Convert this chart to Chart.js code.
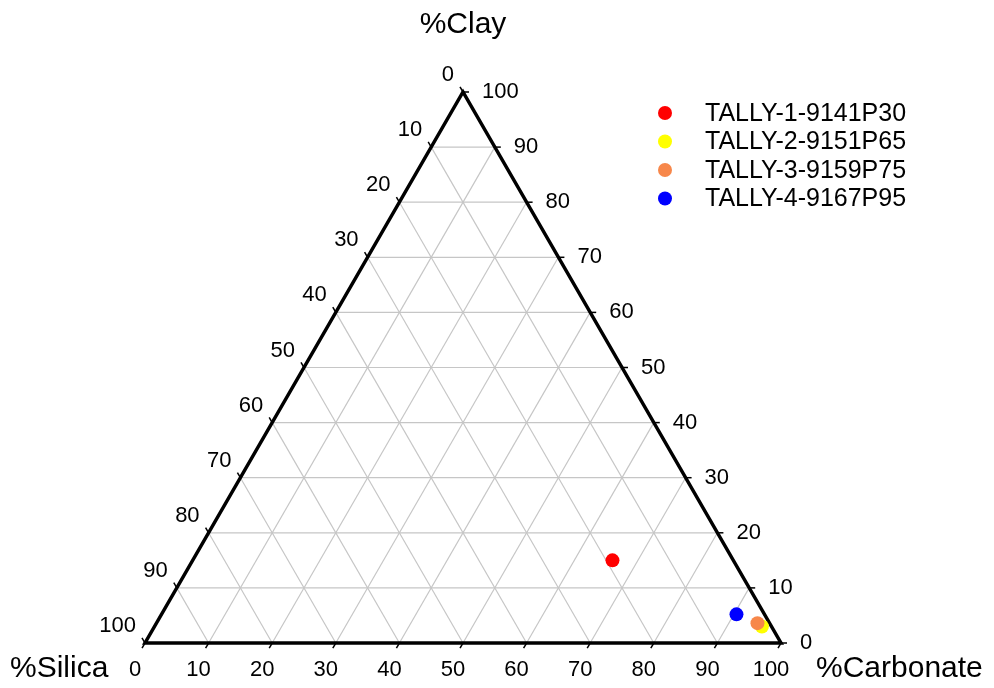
<!DOCTYPE html>
<html>
<head>
<meta charset="utf-8">
<script src="https://cdn.jsdelivr.net/npm/chart.js@4/dist/chart.umd.min.js"></script>
<style>
  html, body { margin: 0; padding: 0; background: #ffffff; }
  #wrap { width: 994px; height: 688px; position: relative; }
</style>
</head>
<body>
<div id="wrap"><canvas id="chart"></canvas></div>
<script>
// Sample names and compositions (percent)
const samples   = ["TALLY-1-9141P30", "TALLY-2-9151P65", "TALLY-3-9159P75", "TALLY-4-9167P95"];
const silica    = [19.0, 1.5, 1.9, 4.4];
const clay      = [15.0, 3.0, 3.6, 5.2];
const carbonate = [66.0, 95.5, 94.5, 90.4];
const colors    = ["#ff0000", "#ffff00", "#f7874a", "#0000ff"];
const drawOrder = [0, 2, 1, 0];          // orange sits above yellow

// Axis ticks (percent)
const tickValues = [0, 10, 20, 30, 40, 50, 60, 70, 80, 90, 100];
const axisTitles = { top: "%Clay", left: "%Silica", right: "%Carbonate" };

const FONT = '"Liberation Sans", Arial, sans-serif';

// ternary -> cartesian (fractions): x = carbonate + clay/2, y = clay
function tern(c, k) { return { x: c + k / 2, y: k }; }

const datasets = samples.map((name, i) => ({
  label: name,
  data: [tern(carbonate[i] / 100, clay[i] / 100)],
  backgroundColor: colors[i],
  borderColor: colors[i],
  borderWidth: 0,
  pointRadius: 7,
  pointHoverRadius: 7,
  order: drawOrder[i],
  clip: false
}));

const ternaryFrame = {
  id: "ternaryFrame",
  beforeDatasetsDraw(chart) {
    const ctx = chart.ctx, xs = chart.scales.x, ys = chart.scales.y;
    const P = (c, k) => ({ x: xs.getPixelForValue(c + k / 2), y: ys.getPixelForValue(k) });
    const line = (a, b) => { ctx.beginPath(); ctx.moveTo(a.x, a.y); ctx.lineTo(b.x, b.y); ctx.stroke(); };
    ctx.save();
    // grid
    ctx.strokeStyle = "#c6c6c6";
    ctx.lineWidth = 1.2;
    for (let i = 1; i < 10; i++) {
      const f = i / 10;
      line(P(0, f), P(1 - f, f));          // constant clay
      line(P(f, 0), P(f, 1 - f));          // constant carbonate
      line(P(1 - f, 0), P(0, 1 - f));      // constant silica
    }
    // ticks
    ctx.strokeStyle = "#000000";
    ctx.lineWidth = 1.5;
    const L = 6;
    tickValues.forEach(v => {
      const f = v / 100;
      const b = P(f, 0);                   // carbonate along base
      line(b, { x: b.x - 0.5 * L, y: b.y + 0.866 * L });
      const r = P(1 - f, f);               // clay along right side
      line(r, { x: r.x + L, y: r.y });
      const l = P(0, 1 - f);               // silica along left side
      line(l, { x: l.x - 0.5 * L, y: l.y - 0.866 * L });
    });
    // triangle outline
    ctx.lineWidth = 3.5;
    ctx.lineJoin = "miter";
    const A = P(0, 0), B = P(1, 0), C = P(0, 1);
    ctx.beginPath();
    ctx.moveTo(A.x, A.y); ctx.lineTo(B.x, B.y); ctx.lineTo(C.x, C.y); ctx.closePath();
    ctx.stroke();
    ctx.restore();
  },
  afterDraw(chart) {
    const ctx = chart.ctx, xs = chart.scales.x, ys = chart.scales.y;
    const P = (c, k) => ({ x: xs.getPixelForValue(c + k / 2), y: ys.getPixelForValue(k) });
    ctx.save();
    ctx.fillStyle = "#000000";
    ctx.textBaseline = "middle";
    ctx.font = "22px " + FONT;
    tickValues.forEach(v => {
      const f = v / 100;
      const b = P(f, 0);
      ctx.textAlign = "center";
      ctx.fillText(String(v), b.x - 10, b.y + 27);
      const r = P(1 - f, f);
      ctx.textAlign = "left";
      ctx.fillText(String(v), r.x + 19, r.y);
      const l = P(0, 1 - f);
      ctx.textAlign = "right";
      ctx.fillText(String(v), l.x - 9, l.y - 17);
    });
    // axis titles
    ctx.font = "30px " + FONT;
    const top = P(0, 1);
    ctx.textAlign = "center";
    ctx.fillText(axisTitles.top, top.x, 25);
    ctx.textAlign = "left";
    ctx.fillText(axisTitles.left, 10, 669);
    ctx.fillText(axisTitles.right, 816, 669);
    // legend
    ctx.font = "25px " + FONT;
    samples.forEach((name, i) => {
      const y = 113 + i * 28.5;
      ctx.beginPath();
      ctx.fillStyle = colors[i];
      ctx.arc(665, y, 7, 0, Math.PI * 2);
      ctx.fill();
      ctx.fillStyle = "#000000";
      ctx.textAlign = "left";
      ctx.fillText(name, 705, y + 1);
    });
    ctx.restore();
  }
};

new Chart(document.getElementById("chart"), {
  type: "scatter",
  data: { datasets },
  options: {
    responsive: true,
    maintainAspectRatio: false,
    animation: false,
    layout: { padding: { left: 145, right: 213, top: 92, bottom: 45 } },
    scales: {
      x: { type: "linear", min: 0, max: 1, display: false },
      y: { type: "linear", min: 0, max: 1, display: false }
    },
    plugins: { legend: { display: false }, tooltip: { enabled: false } }
  },
  plugins: [ternaryFrame]
});
</script>
</body>
</html>
